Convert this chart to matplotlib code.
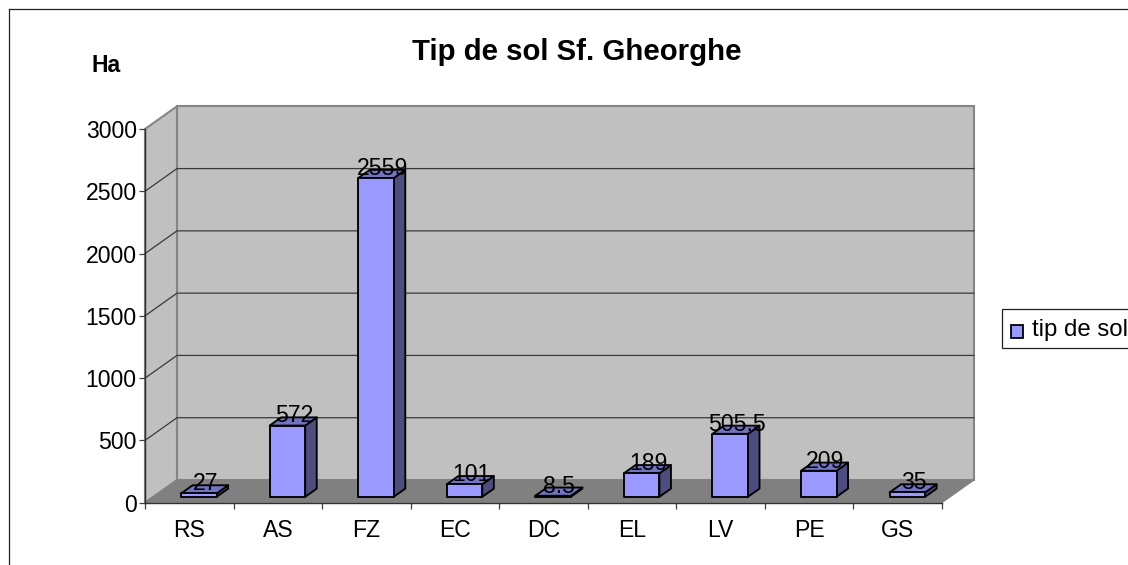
import matplotlib
matplotlib.use("Agg")
import matplotlib.pyplot as plt
from matplotlib.patches import Polygon, Rectangle
from matplotlib.lines import Line2D

plt.rcParams['font.family'] = ['Liberation Sans', 'DejaVu Sans']

categories = ['RS', 'AS', 'FZ', 'EC', 'DC', 'EL', 'LV', 'PE', 'GS']
values = [27, 572, 2559, 101, 8.5, 189, 505.5, 209, 35]
labels = ['27', '572', '2559', '101', '8.5', '189', '505.5', '209', '35']
yticks = [0, 500, 1000, 1500, 2000, 2500, 3000]

W, H = 1128, 565
FS = 16.6
fig = plt.figure(figsize=(W / 100, H / 100), dpi=100, facecolor='white')

# Frame (open on the right and bottom)
fig.add_artist(Line2D([9 / W, 9 / W], [0, 1 - 9 / H], color='#202020', lw=0.9))
fig.add_artist(Line2D([9 / W, 1], [1 - 9 / H, 1 - 9 / H], color='#202020', lw=0.9))

L, R, T, B = 145, 942, 129, 502.7
ax = fig.add_axes([L / W, 1 - B / H, (R - L) / W, (B - T) / H])
ax.set_xlim(0, len(categories))
ax.set_ylim(0, 3000)
ax.patch.set_visible(False)

DX = 32 * len(categories) / (R - L)
DY = 22.7 * 3000 / (B - T)


def pr(x, y, d=0.0):
    return (x + d * DX, y + d * DY)


def poly(pts, fc, ec='none', lw=0, z=1, join='miter'):
    ax.add_patch(Polygon(pts, closed=True, facecolor=fc, edgecolor=ec, linewidth=lw,
                         zorder=z, clip_on=False, joinstyle=join))


n = len(categories)
WALL = '#C0C0C0'
EDGE = '#858585'
# back wall, side wall, floor
poly([pr(0, 0, 1), pr(n, 0, 1), pr(n, 3000, 1), pr(0, 3000, 1)], WALL, EDGE, 1.5, 1)
poly([pr(0, 0), pr(0, 0, 1), pr(0, 3000, 1), pr(0, 3000)], WALL, EDGE, 1.5, 1)
poly([pr(0, 0), pr(n, 0), pr(n, 0, 1), pr(0, 0, 1)], '#808080', '#808080', 0.8, 2)

# gridlines on both walls
for v in yticks[1:-1]:
    xs, ys = zip(pr(0, v), pr(0, v, 1), pr(n, v, 1))
    ax.plot(xs, ys, color='#3A3A3A', lw=0.9, zorder=2, clip_on=False)

# bars
FRONT, TOP, SIDE = '#9999FF', '#7373C4', '#4D4D80'
bw = 35.5 * n / (R - L)
shift = 1.3 * n / (R - L)
d0, d1 = 0.26, 0.62
for i, v in enumerate(values):
    a, b = i + 0.5 - bw / 2 + shift, i + 0.5 + bw / 2 + shift
    kw = dict(ec='black', lw=1.35, z=5 + i * 0.01, join='round')
    poly([pr(b, 0, d0), pr(b, 0, d1), pr(b, v, d1), pr(b, v, d0)], SIDE, **kw)
    poly([pr(a, v, d0), pr(b, v, d0), pr(b, v, d1), pr(a, v, d1)], TOP, **kw)
    poly([pr(a, 0, d0), pr(b, 0, d0), pr(b, v, d0), pr(a, v, d0)], FRONT, **kw)

# data labels
for i, (v, s) in enumerate(zip(values, labels)):
    ax.annotate(s, xy=pr(i + 0.5, v, 0.5), xytext=(0, 3.0), textcoords='offset points',
                ha='center', va='center', fontsize=FS, color='black', zorder=8,
                annotation_clip=False)

# axes
for s in ('top', 'right'):
    ax.spines[s].set_visible(False)
for s in ('left', 'bottom'):
    ax.spines[s].set_color('#303030')
    ax.spines[s].set_linewidth(1.0)
    ax.spines[s].set_zorder(4)
ax.set_yticks(yticks)
ax.set_xticks(range(n + 1))
ax.set_xticklabels([])
ax.set_xticks([i + 0.5 for i in range(n)], minor=True)
ax.set_xticklabels(categories, minor=True)
ax.tick_params(axis='x', which='minor', length=0, pad=11.5, labelsize=FS)
ax.tick_params(axis='x', which='major', length=4.5, width=0.9, color='#404040')
ax.tick_params(axis='y', length=4.5, width=0.9, color='#404040', pad=1.5, labelsize=FS)

# titles
fig.text(576.5 / W, 1 - 52 / H, 'Tip de sol Sf. Gheorghe', ha='center', va='center',
         fontsize=21.2, fontweight='bold')
fig.text(106 / W, 1 - 66 / H, 'Ha', ha='center', va='center', fontsize=16.6, fontweight='bold')

# legend (runs off the right edge, as in the reference)
fig.add_artist(Rectangle((1001.5 / W, 1 - 348 / H), 160 / W, 39 / H, transform=fig.transFigure,
                         facecolor='white', edgecolor='#202020', lw=0.9, clip_on=False))
fig.add_artist(Rectangle((1010.5 / W, 1 - 337.5 / H), 13 / W, 13 / H, transform=fig.transFigure,
                         facecolor=FRONT, edgecolor='black', lw=1.3))
fig.text(1032 / W, 1 - 330 / H, 'tip de sol', ha='left', va='center', fontsize=17.3)

fig.savefig('out.png', dpi=100)
